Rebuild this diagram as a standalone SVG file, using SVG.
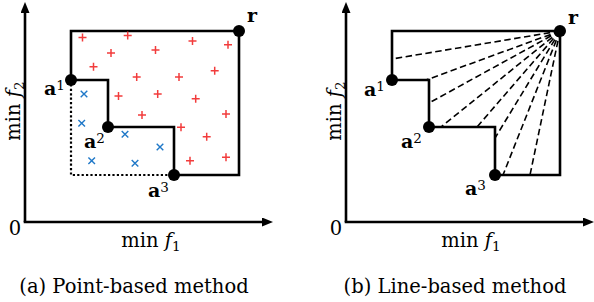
<svg xmlns="http://www.w3.org/2000/svg" width="594" height="302" viewBox="0 0 594 302">
<style>
.ax{stroke:#000;stroke-width:2.6;fill:none}
.bd{stroke:#000;stroke-width:2.6;fill:none;stroke-linejoin:miter}
.dotted{stroke:#000;stroke-width:2.2;stroke-dasharray:2.2,2.2;fill:none}
.dash{stroke:#000;stroke-width:1.6;stroke-dasharray:6.5,3.5;fill:none}
.plus{stroke:#f23c3c;stroke-width:1.5;fill:none}
.cross{stroke:#1f78c8;stroke-width:1.4;fill:none}
.dot{fill:#000}
text{font-family:"DejaVu Serif","Liberation Serif",serif;fill:#000}
.lbl{font-size:19.5px}
.it{font-style:italic}
.sub{font-size:13.5px}
.pt{font-size:19px;font-weight:bold}
.sup{font-size:13.5px;font-weight:normal}
.cap{font-size:19.5px}
</style>
<defs>
<marker id="arr" markerWidth="11" markerHeight="9" refX="0" refY="4.5" orient="auto" markerUnits="userSpaceOnUse">
<path d="M0,0L11,4.5L0,9Z" fill="#000"/>
</marker>
<path id="pl" class="plus" d="M-4,0H4M0,-4V4"/>
<path id="cx" class="cross" d="M-3.3,-3.3L3.3,3.3M3.3,-3.3L-3.3,3.3"/>
</defs>

<!-- Panel (a) -->
<g id="axes-a">
<path class="ax" d="M25,222V13" marker-end="url(#arr)"/>
<path class="ax" d="M23.7,222H262" marker-end="url(#arr)"/>
<text class="lbl" x="15" y="235" text-anchor="middle">0</text>
<text class="lbl" x="151" y="247" text-anchor="middle">min <tspan class="it">f</tspan><tspan class="sub" dy="4">1</tspan></text>
<text class="lbl" transform="translate(20,111) rotate(-90)" text-anchor="middle">min <tspan class="it">f</tspan><tspan class="sub" dy="4">2</tspan></text>
</g>
<g id="connectors-a">
<path class="dotted" d="M71,80V175H174"/>
<path class="bd" d="M174,175V127H108V80H71V31H239V175Z"/>
</g>
<g id="markers-a">
<use href="#pl" x="82.5" y="37.5"/><use href="#pl" x="127.7" y="35.5"/><use href="#pl" x="192.5" y="41"/>
<use href="#pl" x="228" y="44.7"/><use href="#pl" x="111" y="53"/><use href="#pl" x="155.5" y="50"/>
<use href="#pl" x="93.5" y="66.7"/><use href="#pl" x="214.7" y="70.7"/><use href="#pl" x="136.7" y="77"/>
<use href="#pl" x="179" y="77"/><use href="#pl" x="118.5" y="96"/><use href="#pl" x="157.7" y="94"/>
<use href="#pl" x="195.7" y="98.7"/><use href="#pl" x="142" y="115"/><use href="#pl" x="226" y="114"/>
<use href="#pl" x="181" y="127.3"/><use href="#pl" x="206.7" y="136.7"/><use href="#pl" x="190" y="160.7"/>
<use href="#pl" x="226" y="157.3"/>
<use href="#cx" x="84" y="94"/><use href="#cx" x="81.7" y="123.3"/><use href="#cx" x="125" y="134.3"/>
<use href="#cx" x="160" y="147"/><use href="#cx" x="91.7" y="160.7"/><use href="#cx" x="135" y="163.3"/>
</g>
<g id="a-r"><circle class="dot" cx="239" cy="31" r="6"/><text class="pt" x="247" y="22">r</text></g>
<g id="a-a1"><circle class="dot" cx="71" cy="80" r="6"/><text class="pt" x="44" y="95">a<tspan class="sup" dy="-5">1</tspan></text></g>
<g id="a-a2"><circle class="dot" cx="108" cy="127" r="6"/><text class="pt" x="84" y="148">a<tspan class="sup" dy="-5">2</tspan></text></g>
<g id="a-a3"><circle class="dot" cx="174" cy="175" r="6"/><text class="pt" x="148" y="197">a<tspan class="sup" dy="-5">3</tspan></text></g>
<text class="cap" x="134" y="293" text-anchor="middle">(a) Point-based method</text>

<!-- Panel (b) -->
<g id="axes-b">
<path class="ax" d="M346,222V13" marker-end="url(#arr)"/>
<path class="ax" d="M344.7,222H583" marker-end="url(#arr)"/>
<text class="lbl" x="336" y="235" text-anchor="middle">0</text>
<text class="lbl" x="471" y="247" text-anchor="middle">min <tspan class="it">f</tspan><tspan class="sub" dy="4">1</tspan></text>
<text class="lbl" transform="translate(341,111) rotate(-90)" text-anchor="middle">min <tspan class="it">f</tspan><tspan class="sub" dy="4">2</tspan></text>
</g>
<g id="connectors-b">
<path class="bd" d="M495,175V127H429V80H392V31H560V175Z"/>
<path class="dash" d="M560,31L392,59M560,31L426,80M560,31L429,103M560,31L441,127M560,31L477,127M560,31L495,138M560,31L503,175M560,31L530,175"/>
</g>
<g id="b-r"><circle class="dot" cx="560" cy="31" r="6"/><text class="pt" x="568" y="24">r</text></g>
<g id="b-a1"><circle class="dot" cx="392" cy="80" r="6"/><text class="pt" x="364" y="96">a<tspan class="sup" dy="-5">1</tspan></text></g>
<g id="b-a2"><circle class="dot" cx="429" cy="127" r="6"/><text class="pt" x="401" y="148">a<tspan class="sup" dy="-5">2</tspan></text></g>
<g id="b-a3"><circle class="dot" cx="495" cy="175" r="6"/><text class="pt" x="465" y="195">a<tspan class="sup" dy="-5">3</tspan></text></g>
<text class="cap" x="455" y="293" text-anchor="middle">(b) Line-based method</text>
</svg>
